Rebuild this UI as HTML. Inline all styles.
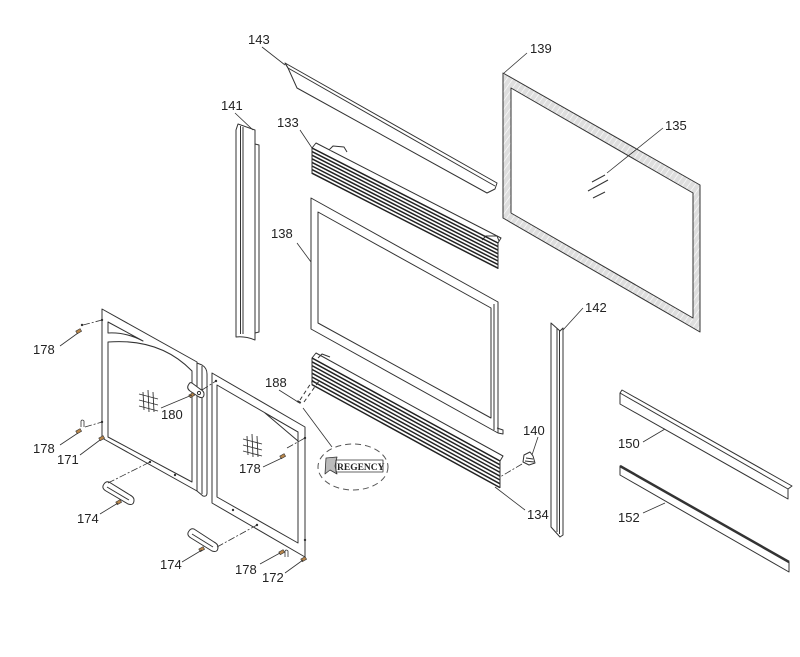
<!DOCTYPE html>
<html><head><meta charset="utf-8"><style>
html,body{margin:0;padding:0;background:#fff;}
svg{display:block;}
text{font-family:"Liberation Sans",Arial,sans-serif;font-size:13px;fill:#222;}
</style></head><body>
<svg width="800" height="657" viewBox="0 0 800 657" xmlns="http://www.w3.org/2000/svg">
<defs>
<pattern id="h" width="5" height="5" patternUnits="userSpaceOnUse" patternTransform="rotate(35)">
<rect width="5" height="5" fill="#dedede"/>
<line x1="0" y1="0" x2="0" y2="5" stroke="#fff" stroke-width="1.3"/>
</pattern>
</defs>
<g stroke="#333" stroke-width="1" fill="none" stroke-linejoin="round">

<!-- 143 top bar -->
<path d="M285,63 L497,183 L495,189 L487,193 L297,88 L288,68 Z" fill="#fff"/>
<line x1="288" y1="68" x2="495" y2="186"/>
<line x1="285" y1="63" x2="288" y2="68"/>

<!-- 141 left bar -->
<path d="M236,130 L238,124 L255,130 L255,340 Q245,336 236,337 Z" fill="#fff"/>
<line x1="240.5" y1="126" x2="240.5" y2="334"/>
<line x1="243" y1="127" x2="243" y2="334"/>
<path d="M255,144 L259,145 L259,332 L255,333"/>

<!-- 133 upper louver -->
<path d="M312,148 L316,143 L501,238 L498,243 Z" fill="#fff"/>
<path d="M329,150 L333,146 L344,147 L347,152" fill="#fff"/>
<path d="M482,240 L486,236 L497,236 L499,241" fill="#fff"/>
<g stroke-width="1.5" stroke="#222">
<line x1="312" y1="148" x2="498" y2="243"/>
<line x1="312" y1="151.6" x2="498" y2="246.6"/>
<line x1="312" y1="155.2" x2="498" y2="250.2"/>
<line x1="312" y1="158.8" x2="498" y2="253.8"/>
<line x1="312" y1="162.4" x2="498" y2="257.4"/>
<line x1="312" y1="166" x2="498" y2="261"/>
<line x1="312" y1="169.6" x2="498" y2="264.6"/>
<line x1="312" y1="173.2" x2="498" y2="268.2"/>
</g>
<line x1="312" y1="148" x2="312" y2="174"/>
<line x1="498" y1="243" x2="498" y2="269"/>

<!-- 139 gasket -->
<path d="M503,73 L700,185 L700,332 L503,218 Z M511,88 L511,213 L693,318 L693,193 Z" fill="url(#h)" fill-rule="evenodd"/>
<!-- glass marks 135 -->
<line x1="592" y1="182" x2="605" y2="175"/>
<line x1="588" y1="191" x2="608" y2="180"/>
<line x1="593" y1="198" x2="605" y2="192"/>

<!-- 138 frame -->
<path d="M311,198 L498,302 L498,433 L311,329 Z" fill="#fff"/>
<path d="M318,212 L491,308 L491,418 L318,323 Z"/>
<line x1="494" y1="304" x2="494" y2="430"/>
<path d="M497,428 L503,430 L503,434 L498,433"/>

<!-- 142 right bar -->
<path d="M551,323 L560,331 L563,328 L563,535 L560,537 L551,527 Z" fill="#fff"/>
<line x1="557" y1="328" x2="557" y2="532"/>
<line x1="559.5" y1="330" x2="559.5" y2="534"/>

<!-- 134 lower louver -->
<path d="M312,358 L316,353 L503,456 L500,461 Z" fill="#fff"/>
<path d="M318,358 L322,354 L330,357" />
<g stroke-width="1.5" stroke="#222">
<line x1="312" y1="358" x2="500" y2="461"/>
<line x1="312" y1="361.8" x2="500" y2="464.8"/>
<line x1="312" y1="365.6" x2="500" y2="468.6"/>
<line x1="312" y1="369.4" x2="500" y2="472.4"/>
<line x1="312" y1="373.2" x2="500" y2="476.2"/>
<line x1="312" y1="377" x2="500" y2="480"/>
<line x1="312" y1="380.8" x2="500" y2="483.8"/>
<line x1="312" y1="384.6" x2="500" y2="487.6"/>
</g>
<line x1="312" y1="358" x2="312" y2="385"/>
<line x1="500" y1="461" x2="500" y2="488"/>

<!-- 150 bar -->
<path d="M620,393 L622,390 L792,486 L788,489 L788,499 L620,404 Z" fill="#fff"/>
<line x1="620" y1="393" x2="788" y2="489"/>

<!-- 152 bar -->
<path d="M620,466 L789,562 L789,572 L620,475 Z" fill="#fff"/>
<line x1="620" y1="466" x2="789" y2="562" stroke-width="2.5"/>

<!-- 140 hinge -->
<path d="M524,455 L530,452 L533,456 L535,463 L529,465 L523,462 Z" fill="#fff"/>
<line x1="526" y1="458" x2="533" y2="459"/>
<line x1="525" y1="461" x2="534" y2="462"/>

<!-- door 171 -->
<path d="M102,309 L197,362 L197,491 L102,438 Z" fill="#fff"/>
<path d="M108,342 Q160,338 192,371 L192,482 L108,437 Z"/>
<path d="M108,322 L143,341 Q126,332 108,333 Z"/>
<path d="M197,363 L202,365 Q207,368 207,374 L207,493 Q207,497 203,496 L197,491"/>
<line x1="202" y1="366" x2="202" y2="494"/>
<g stroke-width="0.9">
<line x1="143" y1="392" x2="144" y2="410"/>
<line x1="148" y1="390" x2="149" y2="412"/>
<line x1="153" y1="392" x2="154" y2="412"/>
<line x1="139" y1="394" x2="158" y2="399"/>
<line x1="139" y1="400" x2="158" y2="405"/>
<line x1="139" y1="406" x2="158" y2="411"/>
</g>
<!-- hinge 180 -->
<path d="M189,384 Q186,388 190,391 L199,397 Q204,399 204,394 Q204,391 200,389 L192,383 Q190,382 189,384 Z" fill="#fff"/>
<circle cx="199" cy="393" r="1.6"/>

<!-- door 172 -->
<path d="M212,373 L305,427 L305,557 L212,503 Z" fill="#fff"/>
<path d="M217,385 L298,432 L298,543 L217,497 Z"/>
<path d="M265,413 L298,432 L298,441 Z"/>
<g stroke-width="0.9">
<line x1="247" y1="436" x2="248" y2="455"/>
<line x1="252" y1="434" x2="253" y2="457"/>
<line x1="257" y1="436" x2="258" y2="457"/>
<line x1="243" y1="439" x2="262" y2="444"/>
<line x1="243" y1="445" x2="262" y2="450"/>
<line x1="243" y1="451" x2="262" y2="456"/>
</g>

<!-- handles 174 -->
<path d="M104,484 Q101,488 106,491 L128,504 Q134,506 134,500 Q134,497 130,495 L109,482 Q106,481 104,484 Z" fill="#fff"/>
<path d="M107,487 L129,500"/>
<path d="M189,531 Q186,535 191,538 L212,551 Q218,553 218,547 Q218,544 214,542 L194,529 Q191,528 189,531 Z" fill="#fff"/>
<path d="M192,534 L213,547"/>

<!-- Regency badge -->
<ellipse cx="353" cy="467" rx="35" ry="23" stroke="#555" stroke-dasharray="6 4"/>
<path d="M326,458 L337,457 L335,466 L337,474 L330,470 L325,474 Z" fill="#bbb" stroke="#333" stroke-width="0.8"/>
<rect x="336" y="460" width="47" height="12" stroke-width="0.8"/>
</g>

<g fill="#333">
<circle cx="150" cy="462" r="1.2"/><circle cx="175" cy="475" r="1.2"/>
<circle cx="233" cy="510" r="1.2"/><circle cx="257" cy="525" r="1.2"/>
<circle cx="216" cy="381" r="1.2"/>
<circle cx="102" cy="320" r="1.2"/><circle cx="102" cy="422" r="1.2"/>
<circle cx="305" cy="438" r="1.2"/><circle cx="305" cy="540" r="1.2"/>
<circle cx="82" cy="325" r="1.2"/>
<rect x="297" y="401" width="4" height="2" transform="rotate(30 299 402)"/>
</g>
<g fill="#b8864b" stroke="#333" stroke-width="0.6">
<rect x="76" y="330" width="5" height="3" transform="rotate(-30 78 331)"/>
<rect x="76" y="430" width="5" height="3" transform="rotate(-30 78 431)"/>
<rect x="99" y="437" width="5" height="3" transform="rotate(-30 101 438)"/>
<rect x="189" y="394" width="5" height="3" transform="rotate(-30 191 395)"/>
<rect x="280" y="455" width="5" height="3" transform="rotate(-30 282 456)"/>
<rect x="279" y="551" width="5" height="3" transform="rotate(-30 281 552)"/>
<rect x="301" y="558" width="5" height="3" transform="rotate(-30 303 559)"/>
<rect x="116" y="501" width="5" height="3" transform="rotate(-30 118 502)"/>
<rect x="199" y="548" width="5" height="3" transform="rotate(-30 201 549)"/>
</g>
<g stroke="#333" fill="#fff" stroke-width="0.8">
<path d="M81,427 L81,421 Q82,419 84,421 L84,427"/>
<path d="M285,557 L285,551 Q286,549 288,551 L288,557"/>
</g>

<g stroke="#333" stroke-width="0.8" fill="none" stroke-dasharray="7 2 2 2">
<line x1="83" y1="325" x2="102" y2="320"/>
<line x1="85" y1="427" x2="102" y2="422"/>
<line x1="108" y1="483" x2="150" y2="462"/>
<line x1="202" y1="390" x2="216" y2="381"/>
<line x1="287" y1="448" x2="305" y2="438"/>
<line x1="217" y1="547" x2="257" y2="525"/>
<line x1="522" y1="464" x2="500" y2="477"/>
</g>
<g stroke="#333" stroke-width="1" fill="none" stroke-dasharray="4 3">
<line x1="300" y1="400" x2="313" y2="380"/>
<line x1="304" y1="402" x2="319" y2="381"/>
</g>

<g stroke="#333" stroke-width="0.8" fill="none">
<line x1="262" y1="47" x2="285" y2="65"/>
<line x1="527" y1="53" x2="504" y2="73"/>
<line x1="235" y1="113" x2="253" y2="130"/>
<line x1="300" y1="130" x2="312" y2="148"/>
<line x1="663" y1="128" x2="607" y2="173"/>
<line x1="297" y1="243" x2="311" y2="262"/>
<line x1="583" y1="308" x2="563" y2="330"/>
<line x1="60" y1="346" x2="78" y2="333"/>
<line x1="279" y1="390" x2="298" y2="402"/>
<line x1="303" y1="408" x2="332" y2="447"/>
<line x1="161" y1="408" x2="192" y2="395"/>
<line x1="538" y1="437" x2="532" y2="455"/>
<line x1="643" y1="442" x2="665" y2="429"/>
<line x1="60" y1="445" x2="78" y2="433"/>
<line x1="80" y1="455" x2="100" y2="440"/>
<line x1="263" y1="467" x2="282" y2="458"/>
<line x1="525" y1="510" x2="495" y2="487"/>
<line x1="643" y1="513" x2="665" y2="503"/>
<line x1="100" y1="514" x2="118" y2="503"/>
<line x1="182" y1="562" x2="202" y2="550"/>
<line x1="260" y1="564" x2="280" y2="553"/>
<line x1="285" y1="573" x2="303" y2="560"/>
</g>

<text x="248" y="44">143</text>
<text x="530" y="53">139</text>
<text x="221" y="110">141</text>
<text x="277" y="127">133</text>
<text x="665" y="130">135</text>
<text x="271" y="238">138</text>
<text x="585" y="312">142</text>
<text x="33" y="354">178</text>
<text x="265" y="387">188</text>
<text x="161" y="419">180</text>
<text x="523" y="435">140</text>
<text x="618" y="448">150</text>
<text x="33" y="453">178</text>
<text x="57" y="464">171</text>
<text x="239" y="473">178</text>
<text x="527" y="519">134</text>
<text x="618" y="522">152</text>
<text x="77" y="523">174</text>
<text x="160" y="569">174</text>
<text x="235" y="574">178</text>
<text x="262" y="582">172</text>
<text x="337" y="470" style="font-family:'Liberation Serif',serif;font-size:9.5px;font-weight:bold;">REGENCY</text>
</svg>
</body></html>
